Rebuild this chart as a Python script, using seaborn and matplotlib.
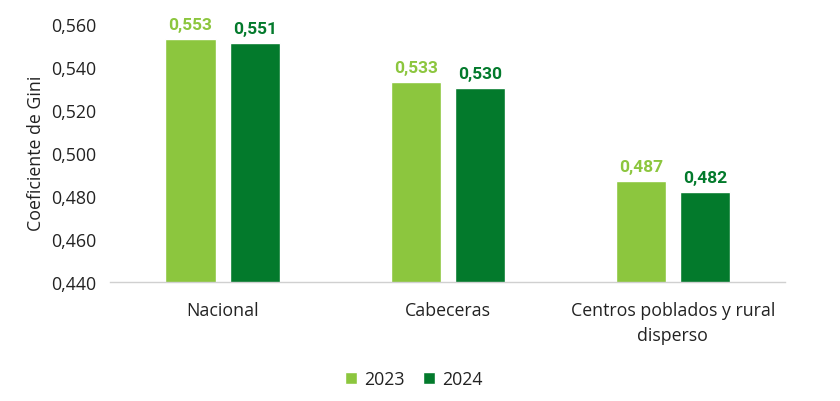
import pandas as pd
import matplotlib
matplotlib.use("Agg")
import matplotlib.pyplot as plt
import seaborn as sns
from matplotlib.ticker import FuncFormatter

categories = ["Nacional", "Cabeceras", "Centros poblados y rural\ndisperso"]
years = ["2023", "2024"]
gini_2023 = [0.553, 0.533, 0.487]
gini_2024 = [0.551, 0.530, 0.482]

colors = {"2023": "#8CC63E", "2024": "#037A2C"}

df = pd.DataFrame({
    "zona": categories * 2,
    "anio": ["2023"] * 3 + ["2024"] * 3,
    "gini": gini_2023 + gini_2024,
})

sns.set_theme(style="white")
plt.rcParams["font.family"] = ["Open Sans", "DejaVu Sans"]

fig = plt.figure(figsize=(8.4, 4.02), dpi=100)
ax = fig.add_axes([0.131, 0.296, 0.804, 0.643])

sns.barplot(data=df, x="zona", y="gini", hue="anio", hue_order=years,
            palette=colors, width=0.57, gap=0.22, ax=ax, legend=True,
            saturation=1)

ax.set_ylim(0.44, 0.56)
ax.set_yticks([0.44, 0.46, 0.48, 0.50, 0.52, 0.54, 0.56])
ax.yaxis.set_major_formatter(FuncFormatter(lambda v, p: f"{v:.3f}".replace(".", ",")))
ax.tick_params(axis="both", labelsize=12.8, colors="#222222", length=0)
ax.tick_params(axis="x", pad=14)
ax.tick_params(axis="y", pad=10)
ax.set_xlabel("")
ax.set_ylabel("Coeficiente de Gini", fontsize=12.8, color="#222222", labelpad=4)
for lbl in ax.get_xticklabels():
    lbl.set_linespacing(1.5)

for s in ["top", "right", "left"]:
    ax.spines[s].set_visible(False)
ax.spines["bottom"].set_color("#d0d0d0")
ax.spines["bottom"].set_linewidth(1)

for cont, yr in zip(ax.containers, years):
    ax.bar_label(cont, labels=[f"{v:.3f}".replace(".", ",") for v in cont.datavalues],
                 padding=5, fontsize=12.5, fontweight="bold", color=colors[yr],
                 family=["Roboto", "DejaVu Sans"])

leg = ax.legend(loc="upper center", bbox_to_anchor=(0.45, -0.28), ncol=2, frameon=False,
                fontsize=12.8, handlelength=0.7, handleheight=0.7, handletextpad=0.4,
                columnspacing=1.0)
for t in leg.get_texts():
    t.set_color("#222222")

fig.savefig("out.png", dpi=100)
